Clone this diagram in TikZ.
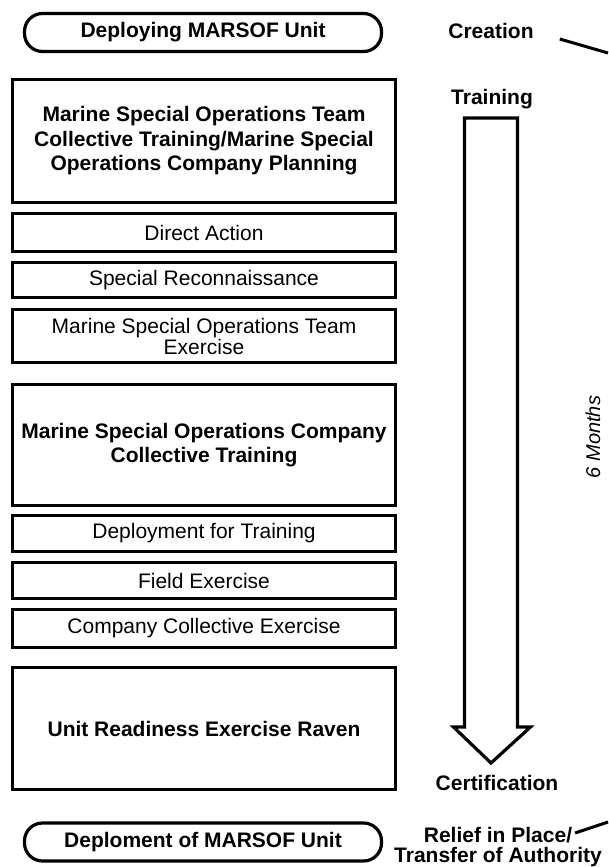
\documentclass[tikz,border=0pt]{standalone}
\usepackage{fontspec}
\setmainfont{Liberation Sans}
\usepackage{tikz}

\begin{document}
\begin{tikzpicture}[x=1pt, y=-1pt,
		box/.style={draw, line width=3.2pt, minimum width=383pt, inner sep=0pt, align=center, font=\fontsize{21}{21}\selectfont},
		bigbox/.style={box, font=\fontsize{21}{24.5}\selectfont\bfseries},
		pill/.style={bigbox, rounded corners=18pt, minimum width=357pt, minimum height=38pt},
		tag/.style={inner sep=0pt, align=center, font=\fontsize{21}{20}\selectfont\bfseries},
		link/.style={line width=3pt}]
		\useasboundingbox (0, 0) rectangle (608, 867);
		\node[pill] (deploying) at (203, 32.5) {Deploying MARSOF Unit};
		\node[bigbox, minimum height=123pt] (msot) at (204, 141) {Marine Special Operations Team\\Collective Training/Marine Special\\Operations Company Planning};
		\foreach \name/\y/\h/\txt in {da/232.5/38/{Direct Action}, sr/280/35/{Special Reconnaissance}, msotx/336/53/{Marine Special Operations Team\\Exercise}}
			\node[box, minimum height=\h pt] (\name) at (204, \y) {\txt};
		\node[bigbox, minimum height=121pt] (msoc) at (204, 445) {Marine Special Operations Company\\Collective Training};
		\foreach \name/\y/\h/\txt in {dft/533.5/36/{Deployment for Training}, fex/580.5/36/{Field Exercise}, ccx/628.5/38/{Company Collective Exercise}}
			\node[box, minimum height=\h pt] (\name) at (204, \y) {\txt};
		\node[bigbox, minimum height=122pt] (urer) at (204, 728.5) {Unit Readiness Exercise Raven};
		\node[pill] (deployment) at (203, 842) {Deploment of MARSOF Unit};
		\draw[line width=3.2pt, line join=miter] (464.5, 118) -- (517.5, 118) -- (517.5, 727) -- (530.5, 727) -- (491, 763) -- (453.5, 727) -- (464.5, 727) -- cycle;
		\node[tag, anchor=base] (creation) at (491, 39) {Creation};
		\node[tag, anchor=base] (training) at (492, 104) {Training};
		\node[tag, anchor=base] (certification) at (497, 790) {Certification};
		\node[tag] (relief) at (498, 847) {Relief in Place/\\Transfer of Authority};
		\node[rotate=90, inner sep=0pt, font=\fontsize{20}{20}\selectfont\itshape] (months) at (593, 437) {6 Months};
		\coordinate (creation-out) at (608, 53);
		\coordinate (relief-out) at (608, 822);
		\draw[link] ([xshift=26pt]creation.base east) -- (creation-out);
		\draw[link] ([shift={(77, 6)}]relief.north) -- (relief-out);
	\end{tikzpicture}
\end{document}
